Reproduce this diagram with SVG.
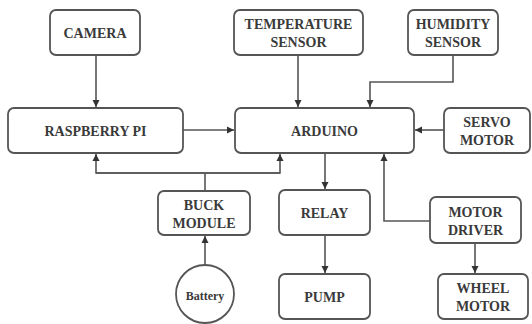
<svg xmlns="http://www.w3.org/2000/svg" width="532" height="324" viewBox="0 0 532 324">
<defs>
<marker id="ah" markerWidth="8" markerHeight="8" refX="7" refY="4" orient="auto" markerUnits="userSpaceOnUse">
<path d="M0,0.5 L7,4 L0,7.5 Z" fill="#333"/>
</marker>
<style>
.box{fill:#fff;stroke:#555;stroke-width:1.8}
.t{font-family:'Liberation Serif','DejaVu Serif',serif;font-weight:700;font-size:14px;fill:#3a3a3a;text-anchor:middle;dominant-baseline:central}
.c{fill:none;stroke:#555;stroke-width:1.6}
</style>
</defs>
<rect width="532" height="324" fill="#fff"/>
<g id="connectors">
<path class="c" d="M96 55 V107" marker-end="url(#ah)"/>
<path class="c" d="M298 55 V107" marker-end="url(#ah)"/>
<path class="c" d="M453 55 V82 H370 V107" marker-end="url(#ah)"/>
<path class="c" d="M183 130 H234" marker-end="url(#ah)"/>
<path class="c" d="M444 130 H415" marker-end="url(#ah)"/>
<path class="c" d="M280 173 H96 V154" marker-end="url(#ah)"/>
<path class="c" d="M96 173 H280 V154" marker-end="url(#ah)"/>
<path class="c" d="M205 191 V173"/>
<path class="c" d="M325 153 V189" marker-end="url(#ah)"/>
<path class="c" d="M325 235 V273" marker-end="url(#ah)"/>
<path class="c" d="M205 265 V236" marker-end="url(#ah)"/>
<path class="c" d="M430 221 H384 V154" marker-end="url(#ah)"/>
<path class="c" d="M475 243 V273" marker-end="url(#ah)"/>
</g>
<g id="camera"><rect class="box" x="50" y="10" width="90" height="45" rx="6"/><text class="t" font-family="Liberation Serif, serif" x="95" y="33">CAMERA</text></g>
<g id="temperature-sensor"><rect class="box" x="234" y="10" width="129" height="45" rx="6"/><text class="t" x="298.5" y="24">TEMPERATURE</text><text class="t" x="298.5" y="42">SENSOR</text></g>
<g id="humidity-sensor"><rect class="box" x="408" y="10" width="90" height="45" rx="6"/><text class="t" x="453" y="24">HUMIDITY</text><text class="t" x="453" y="42">SENSOR</text></g>
<g id="raspberry-pi"><rect class="box" x="8" y="108" width="175" height="45" rx="6"/><text class="t" x="95.5" y="131">RASPBERRY PI</text></g>
<g id="arduino"><rect class="box" x="235" y="108" width="179" height="45" rx="6"/><text class="t" x="324.5" y="131">ARDUINO</text></g>
<g id="servo-motor"><rect class="box" x="444" y="108" width="86" height="45" rx="6"/><text class="t" x="487" y="122">SERVO</text><text class="t" x="487" y="140">MOTOR</text></g>
<g id="buck-module"><rect class="box" x="158" y="191" width="92" height="44" rx="6"/><text class="t" x="204" y="205">BUCK</text><text class="t" x="204" y="223">MODULE</text></g>
<g id="relay"><rect class="box" x="279" y="190" width="91" height="45" rx="6"/><text class="t" x="324.5" y="213">RELAY</text></g>
<g id="motor-driver"><rect class="box" x="430" y="197" width="91" height="46" rx="6"/><text class="t" x="475.5" y="212">MOTOR</text><text class="t" x="475.5" y="230">DRIVER</text></g>
<g id="battery"><circle class="box" cx="205" cy="294" r="29"/><text class="t" x="205" y="296" style="font-size:12px">Battery</text></g>
<g id="pump"><rect class="box" x="279" y="274" width="91" height="45" rx="6"/><text class="t" x="324.5" y="297">PUMP</text></g>
<g id="wheel-motor"><rect class="box" x="438" y="274" width="90" height="45" rx="6"/><text class="t" x="483" y="288">WHEEL</text><text class="t" x="483" y="306">MOTOR</text></g>
</svg>
